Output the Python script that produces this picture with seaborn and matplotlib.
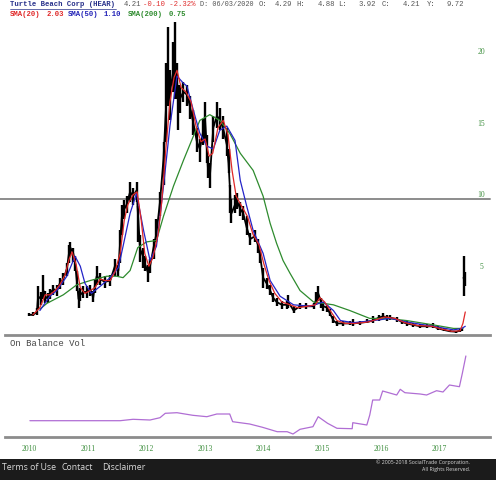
import matplotlib
matplotlib.use("Agg")
import matplotlib.pyplot as plt
from matplotlib.lines import Line2D
from matplotlib.patches import Rectangle
import pandas as pd
import seaborn as sns

# ---------------- data ----------------
price_date = [2010.00, 2010.06, 2010.13, 2010.15, 2010.20, 2010.24, 2010.27, 2010.32, 2010.35, 2010.41,
              2010.47, 2010.52, 2010.58, 2010.64, 2010.68, 2010.70, 2010.75, 2010.78, 2010.81, 2010.84,
              2010.87, 2010.92, 2010.98, 2011.04, 2011.09, 2011.12, 2011.15, 2011.21, 2011.29, 2011.38,
              2011.46, 2011.52, 2011.55, 2011.58, 2011.62, 2011.66, 2011.72, 2011.77, 2011.83, 2011.86,
              2011.89, 2011.94, 2011.97, 2012.03, 2012.06, 2012.12, 2012.17, 2012.23, 2012.29, 2012.34,
              2012.37, 2012.40, 2012.46, 2012.49, 2012.52, 2012.54, 2012.57, 2012.63, 2012.69, 2012.74,
              2012.80, 2012.86, 2012.91, 2012.97, 2013.00, 2013.03, 2013.05, 2013.08, 2013.14, 2013.20,
              2013.25, 2013.31, 2013.37, 2013.40, 2013.43, 2013.45, 2013.51, 2013.54, 2013.60, 2013.65,
              2013.71, 2013.77, 2013.85, 2013.91, 2013.94, 2013.99, 2014.05, 2014.11, 2014.16, 2014.22,
              2014.31, 2014.39, 2014.42, 2014.51, 2014.62, 2014.73, 2014.85, 2014.90, 2014.93, 2014.98,
              2015.02, 2015.08, 2015.13, 2015.19, 2015.25, 2015.36, 2015.47, 2015.53, 2015.64, 2015.76,
              2015.87, 2015.96, 2016.04, 2016.10, 2016.16, 2016.27, 2016.36, 2016.44, 2016.55, 2016.67,
              2016.78, 2016.89, 2016.98, 2017.07, 2017.18, 2017.29, 2017.35, 2017.38, 2017.41, 2017.43]
price_close = [1.9, 1.9, 2.1, 3.2, 3.0, 3.6, 3.2, 3.0, 3.4, 3.7,
               3.6, 4.1, 4.4, 5.1, 6.3, 6.6, 6.2, 5.6, 4.3, 3.0,
               3.3, 3.5, 3.5, 3.7, 3.1, 4.0, 4.6, 4.4, 4.2, 4.3,
               5.3, 5.0, 7.0, 8.8, 9.3, 9.6, 10.5, 10.2, 10.6, 8.5,
               6.5, 6.0, 5.5, 4.8, 5.3, 6.6, 7.6, 9.8, 12.8, 17.0,
               18.5, 17.5, 19.0, 19.5, 18.5, 16.5, 17.0, 17.5, 17.3, 16.5,
               15.3, 14.0, 13.5, 14.8, 15.5, 13.5, 12.0, 11.5, 15.0, 15.8,
               15.6, 14.9, 13.8, 12.5, 10.2, 9.0, 9.6, 9.9, 9.3, 9.0,
               8.0, 7.2, 7.4, 6.7, 6.0, 4.5, 4.1, 3.6, 3.1, 2.8,
               2.6, 2.6, 2.8, 2.2, 2.5, 2.5, 2.5, 3.0, 3.4, 2.8,
               2.5, 2.4, 2.0, 1.5, 1.3, 1.3, 1.3, 1.3, 1.35, 1.4,
               1.5, 1.7, 1.8, 1.7, 1.7, 1.6, 1.4, 1.3, 1.2, 1.1,
               1.1, 1.1, 0.95, 0.85, 0.75, 0.72, 0.8, 0.85, 4.5, 4.2]
price_low = [1.8, 1.8, 1.9, 2.3, 2.6, 3.0, 2.7, 2.7, 3.0, 3.3,
             3.2, 3.7, 4.0, 4.6, 5.5, 6.0, 5.6, 5.0, 3.6, 2.4,
             2.9, 3.1, 3.1, 3.2, 2.8, 3.4, 4.0, 4.0, 3.8, 3.9,
             4.6, 4.6, 5.5, 7.5, 8.6, 9.0, 9.8, 9.6, 9.8, 7.0,
             5.6, 5.2, 5.0, 4.2, 4.8, 5.8, 7.0, 8.8, 11.0, 14.0,
             16.5, 15.5, 17.5, 17.0, 17.0, 14.8, 16.0, 16.8, 16.5, 15.6,
             14.5, 13.3, 12.6, 13.8, 14.0, 12.5, 11.5, 10.8, 14.0, 15.0,
             14.8, 14.2, 13.0, 11.8, 9.0, 8.3, 9.0, 9.3, 8.8, 8.5,
             7.5, 6.8, 7.0, 6.2, 5.5, 3.8, 3.7, 3.3, 2.8, 2.5,
             2.3, 2.3, 2.4, 2.0, 2.3, 2.3, 2.3, 2.6, 2.9, 2.4,
             2.2, 2.1, 1.8, 1.3, 1.1, 1.1, 1.2, 1.1, 1.2, 1.3,
             1.3, 1.5, 1.6, 1.5, 1.55, 1.4, 1.25, 1.15, 1.05, 0.95,
             0.95, 0.95, 0.85, 0.75, 0.68, 0.65, 0.7, 0.75, 3.2, 3.9]
price_high = [2.0, 2.1, 2.4, 3.9, 3.5, 4.7, 3.6, 3.4, 3.7, 4.0,
              4.0, 4.5, 4.8, 5.5, 6.8, 7.0, 6.6, 6.0, 5.0, 3.6,
              3.8, 3.9, 3.9, 4.0, 3.6, 4.4, 5.3, 4.8, 4.6, 4.7,
              5.8, 5.4, 7.8, 9.6, 9.9, 10.2, 11.2, 10.8, 11.2, 9.5,
              7.5, 6.6, 6.0, 5.4, 5.8, 7.2, 8.6, 10.5, 14.0, 19.5,
              22.0, 19.0, 21.0, 22.4, 19.5, 18.0, 18.0, 18.2, 18.0, 17.2,
              16.2, 15.0, 14.2, 15.6, 16.8, 14.5, 13.0, 12.5, 15.8, 16.8,
              16.4, 15.8, 15.0, 13.5, 11.0, 10.0, 10.3, 10.4, 9.8, 9.5,
              8.8, 7.6, 7.8, 7.2, 6.4, 5.2, 4.5, 4.0, 3.4, 3.1,
              2.9, 2.9, 3.3, 2.5, 2.7, 2.7, 2.7, 3.5, 3.9, 3.1,
              2.8, 2.6, 2.3, 1.8, 1.5, 1.5, 1.5, 1.6, 1.5, 1.6,
              1.8, 1.9, 2.0, 1.9, 1.9, 1.75, 1.55, 1.45, 1.35, 1.25,
              1.25, 1.3, 1.1, 0.95, 0.85, 0.8, 0.9, 1.0, 6.0, 4.9]

sma20_date = [2010.06, 2010.18, 2010.27, 2010.35, 2010.44, 2010.52, 2010.61, 2010.68, 2010.73, 2010.80,
              2010.87, 2010.95, 2011.04, 2011.12, 2011.21, 2011.29, 2011.38, 2011.46, 2011.55, 2011.62,
              2011.68, 2011.77, 2011.84, 2011.91, 2011.97, 2012.04, 2012.11, 2012.20, 2012.26, 2012.33,
              2012.40, 2012.47, 2012.52, 2012.59, 2012.67, 2012.76, 2012.85, 2012.93, 2013.00, 2013.07,
              2013.13, 2013.22, 2013.31, 2013.39, 2013.46, 2013.53, 2013.61, 2013.72, 2013.82, 2013.92,
              2014.00, 2014.09, 2014.19, 2014.31, 2014.45, 2014.58, 2014.75, 2014.88, 2014.96, 2015.04,
              2015.15, 2015.25, 2015.39, 2015.56, 2015.78, 2015.95, 2016.07, 2016.24, 2016.41, 2016.63,
              2016.87, 2017.04, 2017.21, 2017.35, 2017.40, 2017.44]
sma20 = [1.9, 2.4, 3.3, 3.3, 3.6, 4.0, 4.7, 5.8, 6.3, 5.4,
         3.8, 3.4, 3.6, 3.8, 4.4, 4.3, 4.3, 4.9, 6.2, 8.5,
         9.6, 10.3, 10.5, 8.5, 6.2, 5.3, 5.9, 7.6, 9.8, 13.5,
         16.8, 18.5, 19.0, 17.8, 17.5, 16.8, 15.0, 14.0, 14.2, 13.0,
         13.2, 15.0, 15.5, 14.5, 12.0, 10.2, 9.6, 8.8, 7.5, 6.8,
         5.5, 4.3, 3.4, 2.8, 2.6, 2.4, 2.5, 2.6, 3.1, 2.8,
         2.1, 1.5, 1.3, 1.3, 1.4, 1.6, 1.75, 1.65, 1.35, 1.15,
         1.1, 0.9, 0.75, 0.78, 1.3, 2.1]

sma50_date = [2010.18, 2010.35, 2010.47, 2010.64, 2010.78, 2010.87, 2010.95, 2011.06, 2011.21, 2011.38,
              2011.52, 2011.60, 2011.72, 2011.83, 2011.95, 2012.06, 2012.17, 2012.29, 2012.40, 2012.52,
              2012.63, 2012.69, 2012.80, 2012.91, 2013.03, 2013.14, 2013.25, 2013.37, 2013.51, 2013.60,
              2013.71, 2013.82, 2013.99, 2014.11, 2014.28, 2014.51, 2014.79, 2015.02, 2015.19, 2015.31,
              2015.53, 2015.87, 2016.16, 2016.44, 2016.89, 2017.24, 2017.38, 2017.44]
sma50 = [2.2, 3.2, 3.6, 4.6, 6.0, 5.3, 4.1, 3.4, 3.9, 4.5,
         5.2, 6.7, 9.0, 10.4, 7.8, 5.7, 6.7, 10.9, 15.1, 18.6,
         18.1, 17.9, 16.2, 14.6, 13.7, 13.5, 14.8, 15.1, 14.1, 11.3,
         9.5, 7.8, 6.2, 4.3, 3.2, 2.6, 2.5, 2.8, 2.2, 1.5,
         1.35, 1.5, 1.65, 1.4, 1.1, 0.85, 0.95, 1.1]

sma200_date = [2010.18, 2010.30, 2010.58, 2010.81, 2011.04, 2011.32, 2011.49, 2011.60, 2011.72, 2011.85,
               2012.00, 2012.17, 2012.29, 2012.46, 2012.63, 2012.80, 2012.91, 2013.08, 2013.25, 2013.42,
               2013.60, 2013.82, 2013.99, 2014.11, 2014.22, 2014.33, 2014.45, 2014.62, 2014.85, 2015.19,
               2015.47, 2015.81, 2016.10, 2016.44, 2016.89, 2017.24, 2017.40]
sma200 = [2.3, 2.7, 3.3, 4.0, 4.3, 4.6, 4.6, 4.5, 5.0, 6.6,
          7.0, 7.1, 8.8, 10.9, 12.7, 14.4, 15.5, 15.9, 15.5, 14.6,
          13.2, 12.0, 10.2, 8.3, 6.9, 5.7, 4.8, 3.6, 2.8, 2.6,
          2.2, 1.65, 1.65, 1.5, 1.2, 0.95, 0.95]

obv_date = [2010.01, 2011.55, 2011.77, 2012.06, 2012.23, 2012.32, 2012.52, 2012.79, 2013.03, 2013.20,
            2013.42, 2013.47, 2013.76, 2013.98, 2014.23, 2014.40, 2014.50, 2014.62, 2014.84, 2014.93,
            2015.09, 2015.25, 2015.51, 2015.52, 2015.76, 2015.81, 2015.86, 2015.98, 2016.03, 2016.27,
            2016.33, 2016.41, 2016.67, 2016.78, 2016.95, 2017.06, 2017.17, 2017.34, 2017.39, 2017.45]
obv = [19.3, 19.3, 20.7, 20.0, 22.3, 26.7, 27.3, 24.7, 23.3, 26.0,
       26.0, 18.3, 16.0, 12.7, 8.3, 8.3, 6.0, 10.7, 13.3, 23.3,
       16.7, 11.7, 11.3, 17.3, 15.0, 25.0, 40.0, 40.0, 49.0, 45.0,
       50.7, 47.3, 46.0, 45.0, 49.3, 48.0, 55.0, 53.3, 66.7, 84.0]

year_ticks = [2010, 2011, 2012, 2013, 2014, 2015, 2016, 2017]
price_ticks = [5, 10, 15, 20]

# ---------------- styling ----------------
sns.set_style("white")
plt.rcParams["font.family"] = ["DejaVu Sans"]

W, H = 496, 480
fig = plt.figure(figsize=(W / 100, H / 100), dpi=100)
fig.patch.set_facecolor("white")


def px_axes(x0, y0, x1, y1):
    return fig.add_axes([x0 / W, 1 - y1 / H, (x1 - x0) / W, (y1 - y0) / H])


ax1 = px_axes(5, 20, 490, 335)
ax2 = px_axes(5, 335, 490, 437)
for ax in (ax1, ax2):
    ax.set_facecolor("none")
    for s in ("top", "left", "right"):
        ax.spines[s].set_visible(False)
    ax.spines["bottom"].set_color("#8c8c8c")
    ax.spines["bottom"].set_linewidth(2.0)
    ax.set_xlim(2009.585, 2017.862)

GREEN_TXT = "#3f8f3f"

# price panel
ax1.set_ylim(0.49, 22.52)
ax1.axhline(10, xmin=-0.012, xmax=1.0, color="#8c8c8c", lw=1.4, clip_on=False, zorder=1)

n_main = len(price_date) - 2
ax1.vlines(price_date, price_low, price_high, color="black", lw=1.7, zorder=2)
ax1.plot(price_date[:n_main], price_close[:n_main], color="black", lw=1.3, zorder=2)
ax1.plot(price_date[n_main:], price_close[n_main:], color="black", lw=1.3, zorder=2)

df200 = pd.DataFrame({"date": sma200_date, "v": sma200})
df50 = pd.DataFrame({"date": sma50_date, "v": sma50})
df20 = pd.DataFrame({"date": sma20_date, "v": sma20})
sns.lineplot(data=df200, x="date", y="v", ax=ax1, color="#2e8b2e", lw=0.9, zorder=3)
sns.lineplot(data=df50, x="date", y="v", ax=ax1, color="#2424c8", lw=0.9, zorder=4)
sns.lineplot(data=df20, x="date", y="v", ax=ax1, color="#e02828", lw=0.9, zorder=5)

ax1.set_xlabel("")
ax1.set_ylabel("")
ax1.set_xticks([])
ax1.yaxis.tick_right()
ax1.set_yticks(price_ticks)
ax1.set_yticklabels([str(t) for t in price_ticks], ha="center", va="bottom",
                    color=GREEN_TXT, fontsize=5.5, family="Liberation Serif")
ax1.tick_params(axis="y", length=0, pad=-6.5, labelright=True, labelleft=False)

# OBV panel
ax2.set_ylim(3, 105)
dfo = pd.DataFrame({"date": obv_date, "v": obv})
sns.lineplot(data=dfo, x="date", y="v", ax=ax2, color="#b06ed4", lw=0.9)
ax2.set_xlabel("")
ax2.set_ylabel("")
ax2.set_yticks([])
ax2.set_xticks(year_ticks)
ax2.set_xticklabels([str(y) for y in year_ticks], color=GREEN_TXT, fontsize=5.5,
                    family="Liberation Serif")
ax2.tick_params(axis="x", length=0, pad=5.5)
fig.text(10 / W, 1 - 343 / H, "On Balance Vol", family="Liberation Mono", fontsize=6.4,
         color="#444444", va="center", ha="left")

# header
MONO = "Liberation Mono"
HS = 5.2


def htext(x, y, s, color, weight="normal", size=HS):
    fig.text(x / W, 1 - y / H, s, family=MONO, fontsize=size, color=color,
             va="center", ha="left", fontweight=weight)


y1, y2 = 4.5, 14.7
htext(10, y1, "Turtle Beach Corp (HEAR)", "#27308a", "bold")
fig.add_artist(Line2D([10 / W, 116 / W], [1 - 8.6 / H, 1 - 8.6 / H], color="#27308a", lw=0.5))
htext(124, y1, "4.21", "#555555")
htext(143.3, y1, "-0.10 -2.32%", "#e03030")
htext(200.5, y1, "D: 06/03/2020", "#555555", size=4.95)
for x, s in [(258.5, "O:"), (275, "4.29"), (296.7, "H:"), (317.3, "4.88"), (338, "L:"),
             (359, "3.92"), (381.7, "C:"), (403, "4.21"), (426.7, "Y:"), (446.7, "9.72")]:
    htext(x, y1, s, "#555555")
htext(10, y2, "SMA(20)", "#e02828", "bold")
htext(46.7, y2, "2.03", "#e02828", "bold")
htext(68.3, y2, "SMA(50)", "#2424b8", "bold")
htext(103.3, y2, "1.10", "#2424b8", "bold")
htext(128.3, y2, "SMA(200)", "#2e8b2e", "bold")
htext(168.3, y2, "0.75", "#2e8b2e", "bold")

# footer
fig.add_artist(Rectangle((0, 0), 1, 21 / H, transform=fig.transFigure,
                         facecolor="#1b1b1b", edgecolor="none"))
for x, s in [(2, "Terms of Use"), (61, "Contact"), (102, "Disclaimer")]:
    fig.text(x / W, 1 - 467 / H, s, color="#d8d8d8", fontsize=6.3, family="Open Sans",
             va="center", ha="left")
fig.text(470 / W, 1 - 462 / H, "\u00a9 2005-2018 SocialTrade Corporation.", color="#d8d8d8",
         fontsize=3.8, family="Open Sans", va="center", ha="right")
fig.text(470 / W, 1 - 469.5 / H, "All Rights Reserved.", color="#d8d8d8",
         fontsize=3.8, family="Open Sans", va="center", ha="right")

fig.savefig("out.png", dpi=100)
